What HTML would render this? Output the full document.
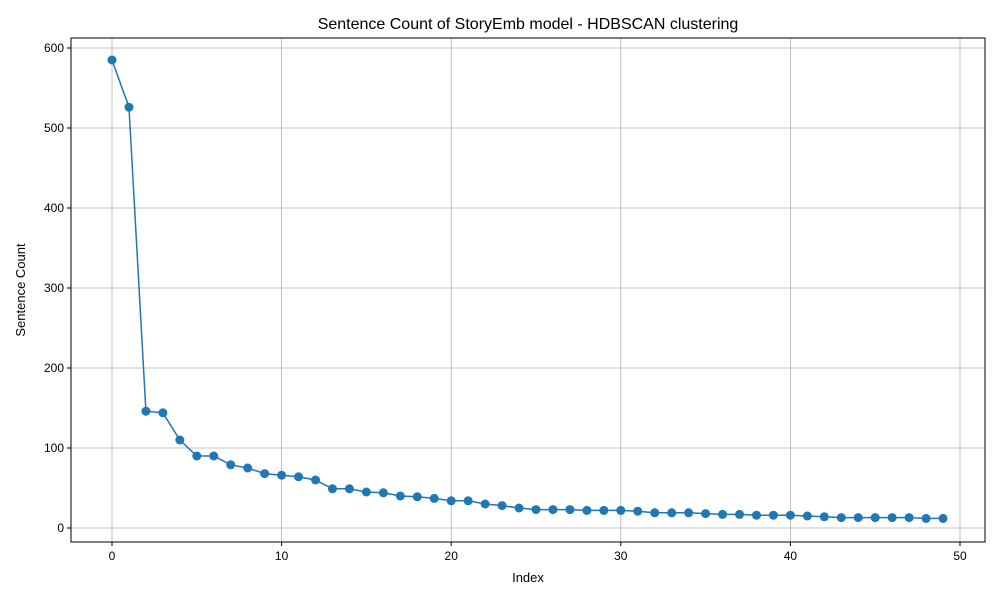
<!DOCTYPE html>
<html><head><meta charset="utf-8"><style>
body{margin:0;background:#fff;}
svg{display:block;font-family:"Liberation Sans","DejaVu Sans",sans-serif;}
</style></head><body>
<svg id="chart" width="1000" height="600">
<rect width="1000" height="600" fill="#fff"/>
<text x="528" y="29" text-anchor="middle" font-size="16" fill="#000">Sentence Count of StoryEmb model - HDBSCAN clustering</text>
<text x="528" y="582" text-anchor="middle" font-size="13" fill="#000">Index</text>
<text x="25" y="290" text-anchor="middle" font-size="13" fill="#000" transform="rotate(-90 25 290)">Sentence Count</text>
<g id="grid"></g><g id="axes"></g><g id="marks"></g>
<rect x="71" y="38" width="914" height="504" fill="none" stroke="#000" stroke-width="1"/>
</svg>
<script>
const indices = Array.from({length:50},(_,i)=>i);
const counts = [585,526,146,144,110,90,90,79,75,68,66,64,60,49,49,45,44,40,39,37,34,34,30,28,25,23,23,23,22,22,22,21,19,19,19,18,17,17,16,16,16,15,14,13,13,13,13,13,12,12];
const xTicks = [0,10,20,30,40,50];
const yTicks = [0,100,200,300,400,500,600];
const NS="http://www.w3.org/2000/svg";
const L=71,R=985,T=38,B=542;
function xs(v){return 112+(v-0)*(960-112)/50;}
function ys(v){return 528-v*(528-48)/600;}
function mk(tag,attrs,parent){const e=document.createElementNS(NS,tag);for(const k in attrs)e.setAttribute(k,attrs[k]);parent.appendChild(e);return e;}
const grid=document.getElementById('grid'),axes=document.getElementById('axes'),marks=document.getElementById('marks');
xTicks.forEach(t=>{const x=xs(t);
 const g=mk('line',{x1:x,x2:x,y1:T,y2:B,stroke:'#b0b0b0','stroke-width':0.8},grid);
 
 
 const tk=mk('line',{x1:x,x2:x,y1:B,y2:B+4,stroke:'#000'},axes);
 
 
 const lb=mk('text',{x:x,y:B+18,'text-anchor':'middle','font-size':12},axes);lb.textContent=t;
 
 
});
yTicks.forEach(t=>{const y=ys(t);
 const g=mk('line',{x1:L,x2:R,y1:y,y2:y,stroke:'#b0b0b0','stroke-width':0.8},grid);
 
 
 const tk=mk('line',{x1:L-4,x2:L,y1:y,y2:y,stroke:'#000'},axes);
 
 
 const lb=mk('text',{x:L-7,y:y+4,'text-anchor':'end','font-size':12},axes);lb.textContent=t;
 
 
});
const pts=indices.map((i,k)=>xs(i)+','+ys(counts[k])).join(' ');
const line=mk('polyline',{points:pts,fill:'none',stroke:'#1f77b4','stroke-width':1.5},marks);


indices.forEach((i,k)=>{
 const c=mk('circle',{cx:xs(i),cy:ys(counts[k]),r:4.5,fill:'#1f77b4'},marks);
 
 
});
</script>
</body></html>
